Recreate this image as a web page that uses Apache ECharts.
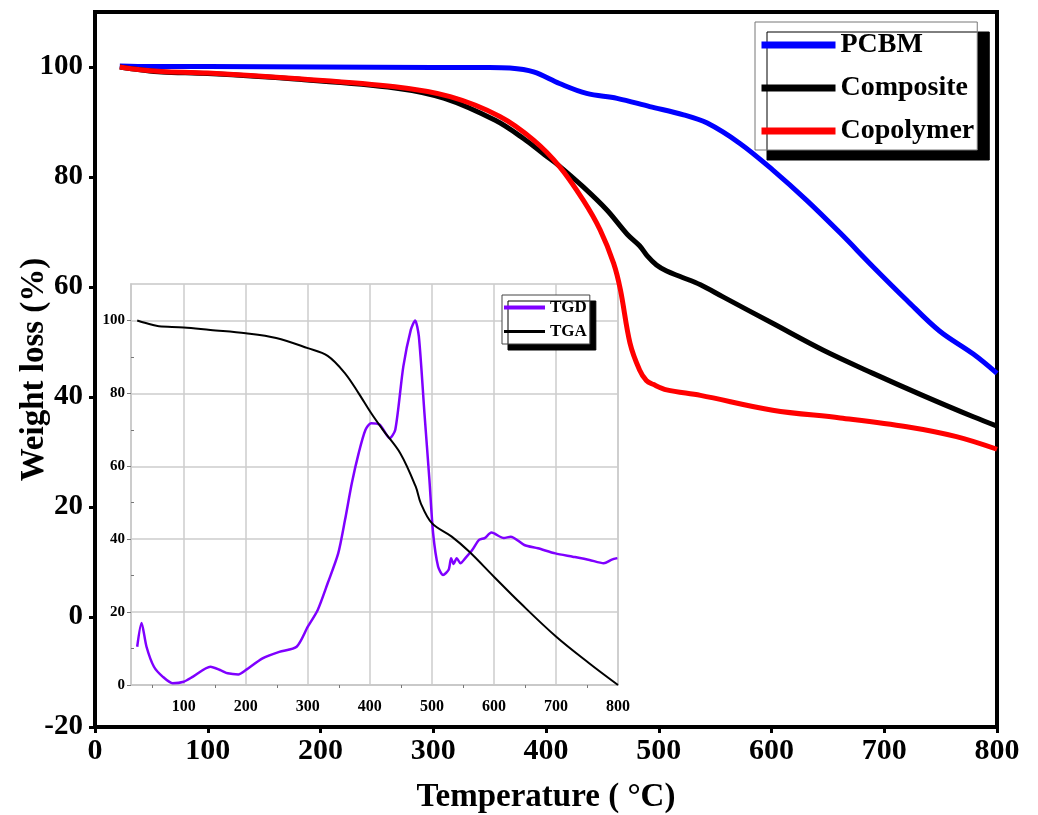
<!DOCTYPE html>
<html><head><meta charset="utf-8">
<script src="https://cdn.jsdelivr.net/npm/echarts@6/dist/echarts.min.js"></script>
<style>html,body{margin:0;padding:0;background:#fff}#c{width:1038px;height:815px}</style>
</head><body><div id="c"></div>
<script>
// ---- main chart data (Temperature °C, Weight %) ----
const pcbmTemp   = [22, 50, 100, 200, 300, 350, 368, 389, 412, 436, 463, 492, 522, 543, 572, 601, 631, 661, 690, 720, 749, 779, 800];
const pcbmWeight = [100.2, 100.1, 100.1, 100, 99.9, 99.9, 99.8, 99.1, 97, 95.2, 94.3, 92.8, 91.3, 89.8, 86.1, 81.3, 75.8, 69.8, 63.7, 57.6, 52.0, 47.8, 44.3];

const compTemp   = [22, 40, 59, 100, 177, 266, 310, 355, 380, 399, 410, 433, 454, 472, 483, 490, 498, 507, 519, 537, 557, 601, 646, 690, 734, 779, 800];
const compWeight = [100, 99.5, 99.1, 98.8, 97.8, 96.2, 94.3, 90.3, 87.0, 84.0, 82.3, 78.2, 74, 69.6, 67.5, 65.6, 64.0, 62.9, 61.9, 60.4, 58.2, 53.4, 48.5, 44.3, 40.3, 36.4, 34.7];

const copoTemp   = [22, 40, 59, 100, 177, 266, 315, 359, 389, 412, 433, 448, 460, 466, 474.5, 483, 489, 495, 507, 537, 601, 661, 720, 764, 800];
const copoWeight = [100, 99.5, 99.2, 98.9, 97.9, 96.4, 94.6, 91, 86.7, 81.9, 75.8, 70.4, 64.3, 59.5, 49.8, 44.9, 43, 42.3, 41.3, 40.3, 37.6, 36.2, 34.6, 32.8, 30.5];

// ---- inset data ----
const tgaTemp = [25, 49, 60, 100, 143, 200, 249, 300, 332, 360, 382, 402, 421, 449, 474, 482, 500, 532, 560, 600, 643, 700, 754, 800];
const tgaVal  = [100, 98.8, 98.4, 98.1, 97.4, 96.5, 95.2, 92.4, 90.3, 85.5, 80, 74.6, 70, 63.6, 54.4, 49.9, 44.4, 40.7, 36.6, 29.7, 22.4, 13.3, 5.9, 0];

const tgdTemp = [25, 32, 40, 52, 66, 82, 100, 115, 143, 160, 171, 188, 200, 227, 254, 282, 300, 316, 332, 349, 360, 371, 382, 393, 402, 416, 432, 441, 454, 466, 473, 479, 488, 496, 502, 510, 518, 527, 531, 535, 540, 546, 554, 565, 576, 585, 596, 616, 627, 649, 671, 699, 727, 754, 777, 790, 799];
const tgdVal  = [10.5, 17, 10.5, 5, 2.3, 0.5, 0.9, 2.3, 5, 4, 3.2, 2.9, 4.1, 7.3, 9.1, 10.5, 16, 20.6, 27.9, 36.1, 45.3, 55.4, 63.6, 70, 71.8, 71.4, 67.7, 70, 87.4, 97.4, 100, 95.6, 74.6, 56.3, 41.6, 32.5, 30.2, 31.6, 34.8, 33.2, 34.8, 33.4, 34.8, 37, 39.8, 40.3, 41.8, 40.3, 40.7, 38.4, 37.5, 36.1, 35.2, 34.3, 33.4, 34.4, 34.8];

// ---- tick labels ----
const mainXTicks  = [0, 100, 200, 300, 400, 500, 600, 700, 800];
const mainYTicks  = [-20, 0, 20, 40, 60, 80, 100];
const insetXTicks = [100, 200, 300, 400, 500, 600, 700, 800];
const insetXMinor = [50, 150, 250, 350, 450, 550, 650, 750];
const insetYTicks = [0, 20, 40, 60, 80, 100];
const insetYMinor = [10, 30, 50, 70, 90];

const pair = (xs, ys) => xs.map((x, i) => [x, ys[i]]);
const FONT = '"Liberation Serif","Times New Roman",serif';
const boldText = (size) => ({ fontFamily: FONT, fontWeight: 'bold', fontSize: size, color: '#000' });

const chart = echarts.init(document.getElementById('c'), null, { renderer: 'canvas' });
const option = {
  animation: false,
  backgroundColor: '#fff',
  grid: [
    { left: 95, right: 41, top: 12, bottom: 88, outerBoundsMode: 'none', containLabel: false,
      show: true, borderColor: '#000', borderWidth: 4, backgroundColor: '#fff' },
    { left: 131, top: 284, width: 487, height: 401, outerBoundsMode: 'none', containLabel: false,
      show: true, borderColor: '#c8c8c8', borderWidth: 1.5, backgroundColor: '#fff' }
  ],
  xAxis: [
    {
      gridIndex: 0, type: 'value', min: 0, max: 800,
      axisLine: { show: true, onZero: false, lineStyle: { color: '#000', width: 4 } },
      axisTick: { show: true, customValues: mainXTicks, length: 6, lineStyle: { color: '#000', width: 3 } },
      axisLabel: Object.assign({ customValues: mainXTicks, margin: 9 }, boldText(30)),
      splitLine: { show: false },
      name: 'Temperature ( °C)', nameLocation: 'middle', nameGap: 54, nameMoveOverlap: false,
      nameTextStyle: boldText(33)
    },
    {
      gridIndex: 1, type: 'value', min: 15, max: 800,
      axisLine: { show: true, onZero: false, lineStyle: { color: '#c8c8c8', width: 1.5 } },
      axisTick: { show: false, customValues: insetXTicks },
      axisLabel: Object.assign({ customValues: insetXTicks, margin: 14 }, boldText(16)),
      splitLine: { show: true, lineStyle: { color: '#cccccc', width: 1.5 } }
    },
    {
      gridIndex: 1, type: 'value', min: 15, max: 800, position: 'bottom',
      axisLine: { show: false, onZero: false },
      axisTick: { show: true, customValues: insetXMinor, length: 3, lineStyle: { color: '#777', width: 1 } },
      axisLabel: { show: false },
      splitLine: { show: false }
    }
  ],
  yAxis: [
    {
      gridIndex: 0, type: 'value', min: -20, max: 110,
      axisLine: { show: true, onZero: false, lineStyle: { color: '#000', width: 4 } },
      axisTick: { show: true, customValues: mainYTicks, length: 6, lineStyle: { color: '#000', width: 3 } },
      axisLabel: Object.assign({ customValues: mainYTicks, margin: 12 }, boldText(29)),
      splitLine: { show: false },
      name: 'Weight loss (%)', nameLocation: 'middle', nameGap: 44, nameMoveOverlap: false,
      nameTextStyle: boldText(33)
    },
    {
      gridIndex: 1, type: 'value', min: 0, max: 110,
      axisLine: { show: true, onZero: false, lineStyle: { color: '#c8c8c8', width: 1.5 } },
      axisTick: { show: true, customValues: insetYTicks, length: 4, lineStyle: { color: '#777', width: 1 } },
      axisLabel: Object.assign({ customValues: insetYTicks, margin: 6 }, boldText(15)),
      splitLine: { show: true, lineStyle: { color: '#cccccc', width: 1.5 } }
    },
    {
      gridIndex: 1, type: 'value', min: 0, max: 110, position: 'left',
      axisLine: { show: false, onZero: false },
      axisTick: { show: true, inside: true, customValues: insetYMinor, length: 3, lineStyle: { color: '#777', width: 1 } },
      axisLabel: { show: false },
      splitLine: { show: false }
    }
  ],
  legend: [
    {
      data: [
        { name: 'PCBM', lineStyle: { width: 7 } },
        { name: 'Composite', lineStyle: { width: 7 } },
        { name: 'Copolymer', lineStyle: { width: 7 } }
      ],
      orient: 'vertical', left: 755, top: 22,
      itemWidth: 74, itemHeight: 14, itemGap: 15,
      padding: [9, 3, 5, 3],
      itemStyle: { opacity: 0 },
      backgroundColor: '#fff', borderColor: '#777', borderWidth: 1,
      shadowColor: '#000', shadowOffsetX: 12, shadowOffsetY: 10, shadowBlur: 0,
      textStyle: boldText(28)
    },
    {
      data: [
        { name: 'TGD', lineStyle: { width: 4 } },
        { name: 'TGA', lineStyle: { width: 3 } }
      ],
      orient: 'vertical', left: 502, top: 295,
      itemWidth: 41, itemHeight: 10, itemGap: 7,
      padding: [4, 3, 4, 0],
      itemStyle: { opacity: 0 },
      backgroundColor: '#fff', borderColor: '#444', borderWidth: 1,
      shadowColor: '#000', shadowOffsetX: 6, shadowOffsetY: 6, shadowBlur: 0,
      textStyle: boldText(17)
    }
  ],
  series: [
    { name: 'PCBM', type: 'line', xAxisIndex: 0, yAxisIndex: 0, data: pair(pcbmTemp, pcbmWeight),
      symbol: 'none', smooth: 0.35, color: '#0000ff', lineStyle: { width: 5, color: '#0000ff' } },
    { name: 'Composite', type: 'line', xAxisIndex: 0, yAxisIndex: 0, data: pair(compTemp, compWeight),
      symbol: 'none', smooth: 0.35, color: '#000000', lineStyle: { width: 5, color: '#000000' } },
    { name: 'Copolymer', type: 'line', xAxisIndex: 0, yAxisIndex: 0, data: pair(copoTemp, copoWeight),
      symbol: 'none', smooth: 0.35, color: '#ff0000', lineStyle: { width: 5, color: '#ff0000' } },
    { name: 'TGD', type: 'line', xAxisIndex: 1, yAxisIndex: 1, data: pair(tgdTemp, tgdVal),
      symbol: 'none', smooth: 0.25, color: '#7f00ff', lineStyle: { width: 2.5, color: '#7f00ff' } },
    { name: 'TGA', type: 'line', xAxisIndex: 1, yAxisIndex: 1, data: pair(tgaTemp, tgaVal),
      symbol: 'none', smooth: 0.35, color: '#000000', lineStyle: { width: 2, color: '#000000' } }
  ]
};
chart.setOption(option);
</script>
</body></html>
